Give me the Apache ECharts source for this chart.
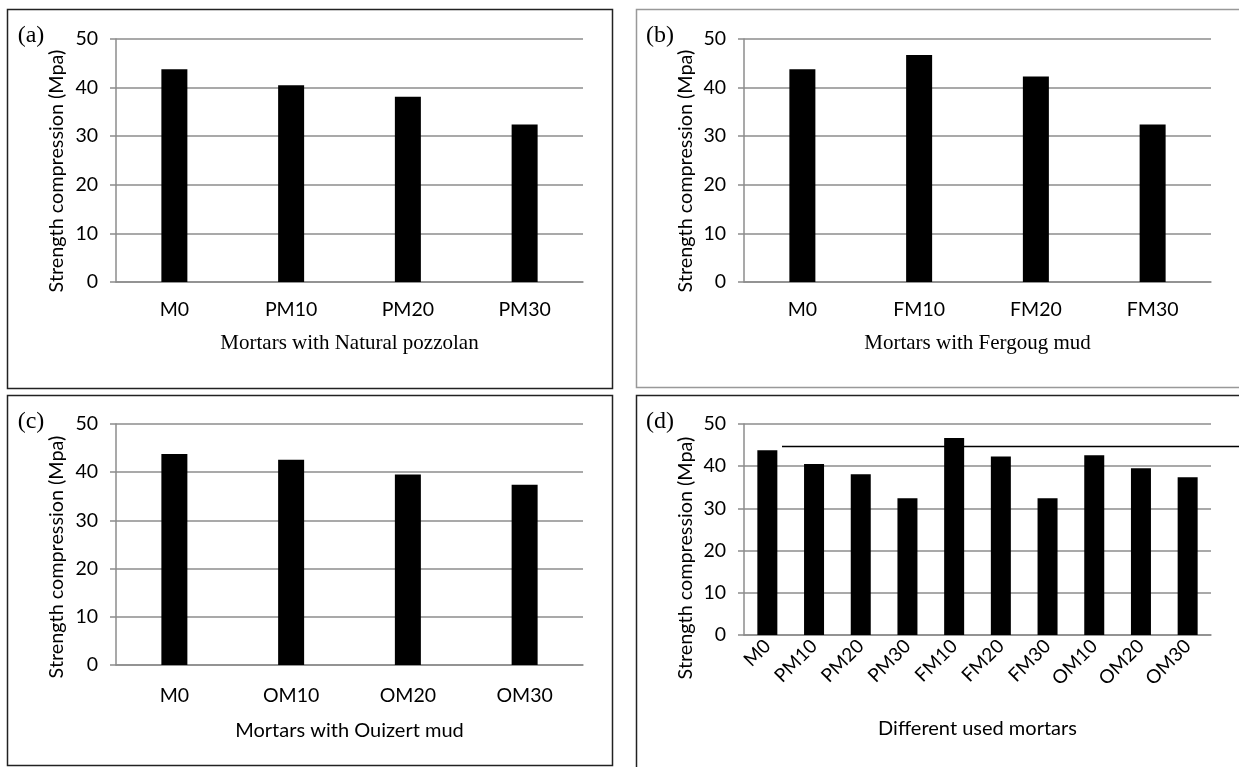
<!DOCTYPE html>
<html>
<head>
<meta charset="utf-8">
<script src="https://cdn.jsdelivr.net/npm/echarts@6/dist/echarts.min.js"></script>
<style>
html,body{margin:0;padding:0;background:#fff;}
#c{width:1239px;height:767px;}
</style>
</head>
<body>
<div id="c"></div>
<script>
// ---- data ----
const catsA = ['M0', 'PM10', 'PM20', 'PM30'];
const valsA = [43.8, 40.5, 38.1, 32.4];
const catsB = ['M0', 'FM10', 'FM20', 'FM30'];
const valsB = [43.8, 46.7, 42.3, 32.4];
const catsC = ['M0', 'OM10', 'OM20', 'OM30'];
const valsC = [43.8, 42.6, 39.5, 37.4];
const catsD = ['M0', 'PM10', 'PM20', 'PM30', 'FM10', 'FM20', 'FM30', 'OM10', 'OM20', 'OM30'];
const valsD = [43.8, 40.5, 38.1, 32.4, 46.7, 42.3, 32.4, 42.6, 39.5, 37.4];
const yMin = 0, yMax = 50, yStep = 10;
const refLineValue = 44.8;
const panelLabels = ['(a)', '(b)', '(c)', '(d)'];
const xTitles = ['Mortars with Natural pozzolan', 'Mortars with Fergoug mud', 'Mortars with Ouizert mud', 'Different used mortars'];
const yTitle = 'Strength compression (Mpa)';

const SANS = 'Lato, "Open Sans", sans-serif';
const SERIF = '"Liberation Serif", "DejaVu Serif", serif';
const GRID = '#8c8c8c';

const grids = [
  {left: 116, top: 39, width: 467, height: 243},
  {left: 744, top: 39, width: 467, height: 243},
  {left: 116, top: 424, width: 467, height: 241},
  {left: 744, top: 424, width: 467, height: 211}
];
const cats = [catsA, catsB, catsC, catsD];
const vals = [valsA, valsB, valsC, valsD];
const xLabelMargin = [18, 18, 21, 8];

const xAxes = cats.map((c, i) => ({
  type: 'category', gridIndex: i, data: c,
  axisLine: {lineStyle: {color: GRID, width: 1.5}},
  axisTick: {show: false},
  axisLabel: i === 3
    ? {rotate: 45, margin: 8, color: '#000', fontSize: 19, fontFamily: SANS, interval: 0}
    : {margin: xLabelMargin[i], color: '#000', fontSize: 19.5, fontFamily: SANS, interval: 0}
}));
const yAxes = cats.map((c, i) => ({
  type: 'value', gridIndex: i, min: yMin, max: yMax, interval: yStep,
  axisLine: {show: true, lineStyle: {color: GRID, width: 1.5}},
  axisTick: {show: true, length: 6, lineStyle: {color: GRID, width: 1.5}},
  splitLine: {lineStyle: {color: GRID, width: 1.5}},
  axisLabel: {margin: 18, color: '#000', fontSize: 19.5, fontFamily: SANS}
}));
const series = vals.map((v, i) => ({
  type: 'bar', xAxisIndex: i, yAxisIndex: i, data: v,
  barWidth: i === 3 ? 20 : 26,
  itemStyle: {color: '#000'},
  silent: true
}));

const boxes = [
  {x: 7, y: 9, w: 605, h: 379, c: '#222'},
  {x: 636, y: 9, w: 620, h: 378, c: '#999'},
  {x: 7, y: 395, w: 605, h: 370, c: '#222'},
  {x: 636, y: 395, w: 620, h: 400, c: '#222'}
];
const yTitleCenter = [171, 171, 557, 558];
const xTitleCenter = [343, 343, 731, 729];
const graphic = [];
boxes.forEach((b, i) => {
  graphic.push({type: 'rect', shape: {x: b.x + 0.5, y: b.y + 0.5, width: b.w, height: b.h},
    style: {fill: 'none', stroke: b.c, lineWidth: 1.5}, z: 0});
  graphic.push({type: 'text', x: b.x + 24, y: b.y + 27,
    style: {text: panelLabels[i], font: '24px ' + SERIF, fill: '#000', textAlign: 'center', textVerticalAlign: 'middle'}});
  const g = grids[i];
  graphic.push({type: 'text', x: b.x + 50, y: yTitleCenter[i], rotation: Math.PI / 2,
    style: {text: yTitle, font: '19.8px ' + SANS, fill: '#000', textAlign: 'center', textVerticalAlign: 'middle'}});
  const tx = g.left + g.width / 2;
  graphic.push({type: 'text', x: tx, y: xTitleCenter[i],
    style: {text: xTitles[i], font: (i < 2 ? '21px ' + SERIF : '20px ' + SANS), fill: '#000', textAlign: 'center', textVerticalAlign: 'middle'}});
});

const chart = echarts.init(document.getElementById('c'), null, {renderer: 'canvas'});
chart.setOption({
  backgroundColor: '#fff',
  animation: false,
  grid: grids,
  xAxis: xAxes,
  yAxis: yAxes,
  series: series,
  graphic: graphic
});
// reference line in panel (d), drawn through the panel's value scale
const p = chart.convertToPixel({xAxisIndex: 3, yAxisIndex: 3}, [0, refLineValue]);
graphic.push({type: 'line', shape: {x1: 782, y1: Math.round(p[1]) + 0.5, x2: 1239, y2: Math.round(p[1]) + 0.5},
  style: {stroke: '#000', lineWidth: 1.5}, z: 10});
chart.setOption({graphic: graphic}, {replaceMerge: ['graphic']});
</script>
</body>
</html>
